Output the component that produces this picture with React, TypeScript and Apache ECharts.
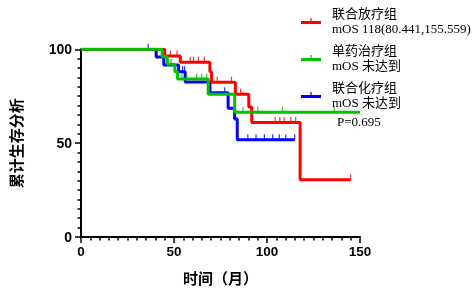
import React, { useEffect, useRef } from "react";
import * as echarts from "echarts";

// Kaplan-Meier step data (time in months, survival %)
const redTimes = [45, 53.4, 69.3, 70.2, 83, 90.2, 91.8, 117.8];
const redSurv = [96.4, 93.1, 88, 82.5, 76.1, 69.3, 61, 30.5];
const redEnd = 145;
const redCensorT = [48, 51.6, 58.7, 60.5, 63.1, 66.3, 73.2, 80.9, 85.8, 104.4, 106.9, 109.2, 112.8, 115.4, 145];
const redCensorS = [96.4, 96.4, 93.1, 93.1, 93.1, 93.1, 82.5, 82.5, 76.1, 61, 61, 61, 61, 61, 30.5];

const greenTimes = [43.6, 46.4, 50.5, 51.9, 68.4, 82.6];
const greenSurv = [96, 92, 88.1, 84.2, 76, 66.4];
const greenEnd = 150;
const greenCensorT = [48.5, 54.3, 56.9, 62.2, 64.9, 67.6, 87.1, 95, 108.3, 136.2];
const greenCensorS = [92, 84.2, 84.2, 84.2, 84.2, 84.2, 66.4, 66.4, 66.4, 66.4];

const blueTimes = [40.4, 44.5, 52.5, 56, 69.3, 79.1, 82.6, 84];
const blueSurv = [95.9, 91.7, 88.1, 82.6, 76.8, 68.6, 62.8, 51.8];
const blueEnd = 114.9;
const blueCensorT = [36.1, 54.6, 55.7, 77.3, 89.7, 94.1, 98.6, 103, 106.6, 110.1, 114.9];
const blueCensorS = [100, 88.1, 88.1, 76.8, 51.8, 51.8, 51.8, 51.8, 51.8, 51.8, 51.8];

const groupNames = ["联合放疗组", "单药治疗组", "联合化疗组"];
const groupMOS = ["mOS 118(80.441,155.559)", "mOS 未达到", "mOS 未达到"];
const pText = "P=0.695";
const xTitle = "时间（月）";
const yTitle = "累计生存分析";

function stepData(times: number[], surv: number[], end: number) {
  const d: number[][] = [[0, 100]];
  times.forEach((t, i) => d.push([t, surv[i]]));
  d.push([end, surv[surv.length - 1]]);
  return d;
}
function pairs(t: number[], s: number[]) {
  return t.map((x, i) => [x, s[i]]);
}

export default function App() {
  const ref = useRef<HTMLDivElement>(null);
  useEffect(() => {
    const chart = echarts.init(ref.current!, null, { renderer: "svg" });
    const colors = ["#ff0000", "#00c400", "#0000ff"];
    const lineSeries = (name: string, data: number[][], color: string, z: number) => ({
      name,
      type: "line",
      step: "end",
      data,
      showSymbol: false,
      symbol: "none",
      lineStyle: { color, width: 3 },
      itemStyle: { color },
      z,
    });
    const censor = (name: string, data: number[][], color: string, z: number) => ({
      name,
      type: "scatter",
      data,
      symbol: "rect",
      symbolSize: [1.2, 5],
      symbolOffset: [0, -3],
      itemStyle: { color },
      clip: false,
      z,
    });
    const mosMap: Record<string, string> = {};
    groupNames.forEach((n, i) => (mosMap[n] = groupMOS[i]));
    chart.setOption({
      animation: false,
      textStyle: { fontFamily: "Liberation Sans, Arial, sans-serif" },
      grid: { left: 78, right: 112, top: 49.3, bottom: 52.7 },
      legend: {
        data: groupNames,
        orient: "vertical",
        left: 301,
        top: 6,
        padding: 0,
        itemWidth: 20,
        itemHeight: 6,
        itemGap: 7,
        icon: "path://M0,3h20v3h-20z M9.4,0h1.2v3h-1.2z",
        formatter: (n: string) => `${n}\n${mosMap[n]}`,
        textStyle: {
          fontFamily: "Liberation Serif, Noto Sans CJK SC",
          fontSize: 13,
          lineHeight: 15,
          color: "#000",
          padding: [0, 0, 0, 6],
        },
      },
      xAxis: {
        type: "value",
        min: 0,
        max: 150,
        interval: 50,
        name: xTitle,
        nameLocation: "middle",
        nameGap: 33,
        nameTextStyle: { fontFamily: "Noto Sans CJK SC", fontSize: 15, fontWeight: "bold", color: "#000" },
        axisLine: { lineStyle: { color: "#000", width: 2 } },
        axisTick: { length: 6, lineStyle: { color: "#000", width: 1.5 } },
        minorTick: { show: true, splitNumber: 10, length: 3.5, lineStyle: { color: "#000", width: 1.5 } },
        axisLabel: { color: "#000", fontWeight: "bold", fontSize: 13.5, margin: 8 },
        splitLine: { show: false },
      },
      yAxis: {
        type: "value",
        min: 0,
        max: 100,
        interval: 50,
        name: yTitle,
        nameLocation: "middle",
        nameGap: 58,
        nameTextStyle: { fontFamily: "Noto Sans CJK SC", fontSize: 15, fontWeight: "bold", color: "#000" },
        axisLine: { show: true, lineStyle: { color: "#000", width: 2 } },
        axisTick: { show: true, length: 6, lineStyle: { color: "#000", width: 1.5 } },
        minorTick: { show: true, splitNumber: 10, length: 3.5, lineStyle: { color: "#000", width: 1.5 } },
        axisLabel: { color: "#000", fontWeight: "bold", fontSize: 14, margin: 9 },
        splitLine: { show: false },
      },
      graphic: [
        {
          type: "text",
          left: 337,
          top: 115,
          style: { text: pText, fontFamily: "Liberation Serif", fontSize: 13, fill: "#000" },
        },
      ],
      series: [
        lineSeries(groupNames[2], stepData(blueTimes, blueSurv, blueEnd), colors[2], 2),
        lineSeries(groupNames[0], stepData(redTimes, redSurv, redEnd), colors[0], 3),
        lineSeries(groupNames[1], stepData(greenTimes, greenSurv, greenEnd), colors[1], 4),
        censor("bc", pairs(blueCensorT, blueCensorS), colors[2], 2),
        censor("rc", pairs(redCensorT, redCensorS), colors[0], 3),
        censor("gc", pairs(greenCensorT, greenCensorS), colors[1], 4),
      ],
    });
    return () => chart.dispose();
  }, []);
  return <div ref={ref} style={{ position: "fixed", left: 0, top: 0, width: 472, height: 290 }} />;
}
